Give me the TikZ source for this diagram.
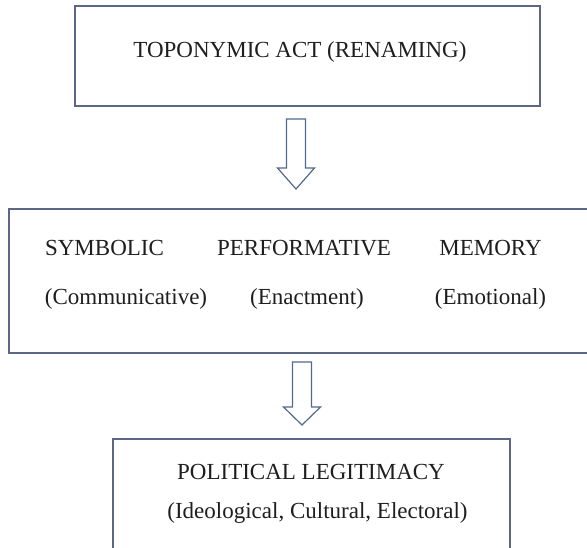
\documentclass[tikz,border=0pt]{standalone}
\usepackage{fontspec}
\setmainfont{Liberation Serif}
\usetikzlibrary{positioning}
\definecolor{boxedge}{HTML}{5B6785}
\definecolor{arrowedge}{HTML}{52698F}
\definecolor{ink}{HTML}{1E1E1E}
\tikzset{
  every node/.style={font=\fontsize{23}{27}\selectfont, text=ink, inner sep=0pt},
  frame/.style={draw=boxedge, line width=1.4pt, fill=white},
  blockarr/.style={draw=arrowedge, line width=1.2pt, fill=white, line join=miter},
  cell/.style={anchor=center},
}
\begin{document}
\begin{tikzpicture}[x=1pt, y=-1pt]
\useasboundingbox (0,0) rectangle (587,548);
% ---- grid (px) ----------------------------------------------------------------
\def\xM{300} \def\xS{126} \def\xP{304} \def\xR{490.5}
\def\rA{52} \def\rB{248} \def\rC{299} \def\rD{472} \def\rE{513}

% ---- boxes --------------------------------------------------------------------
\node[frame, minimum width=465pt, minimum height=100pt] (act)   at (307.5, 56) {};
\node[frame, minimum width=590pt, minimum height=144pt] (modes) at (304, 281) {};
\node[frame, minimum width=397pt, minimum height=120pt] (legit) at (311.5, 499) {};

% ---- texts --------------------------------------------------------------------
\node[cell] (actT) at (\xM, \rA) {TOPONYMIC ACT (RENAMING)};
\node[cell] (sym)  at (104.5, \rB) {SYMBOLIC};
\node[cell] (perf) at (\xP, \rB) {PERFORMATIVE};
\node[cell] (mem)  at (\xR, \rB) {MEMORY};
\node[cell] (comm) at (\xS, \rC) {(Communicative)};
\node[cell] (ena)  at (307, \rC) {(Enactment)};
\node[cell] (emo)  at (\xR, \rC) {(Emotional)};
\node[cell] (pol)  at (311, \rD) {POLITICAL LEGITIMACY};
\node[cell] (kind) at (317.5, \rE) {(Ideological, Cultural, Electoral)};

% ---- block arrows (shaft 19, head 37 wide, 21 long) ---------------------------
\coordinate (down1) at (296, 119);   % top of first arrow
\coordinate (down2) at (302, 362);   % top of second arrow
\draw[blockarr] (down1) ++(-9.5,0) -- ++(0,49) -- ++(-9,0) -- ++(18.5,21)
  -- ++(18.5,-21) -- ++(-9,0) -- ++(0,-49) -- cycle;
\draw[blockarr] (down2) ++(-9.5,0) -- ++(0,45) -- ++(-9,0) -- ++(18.5,18)
  -- ++(18.5,-18) -- ++(-9,0) -- ++(0,-45) -- cycle;
\end{tikzpicture}
\end{document}
